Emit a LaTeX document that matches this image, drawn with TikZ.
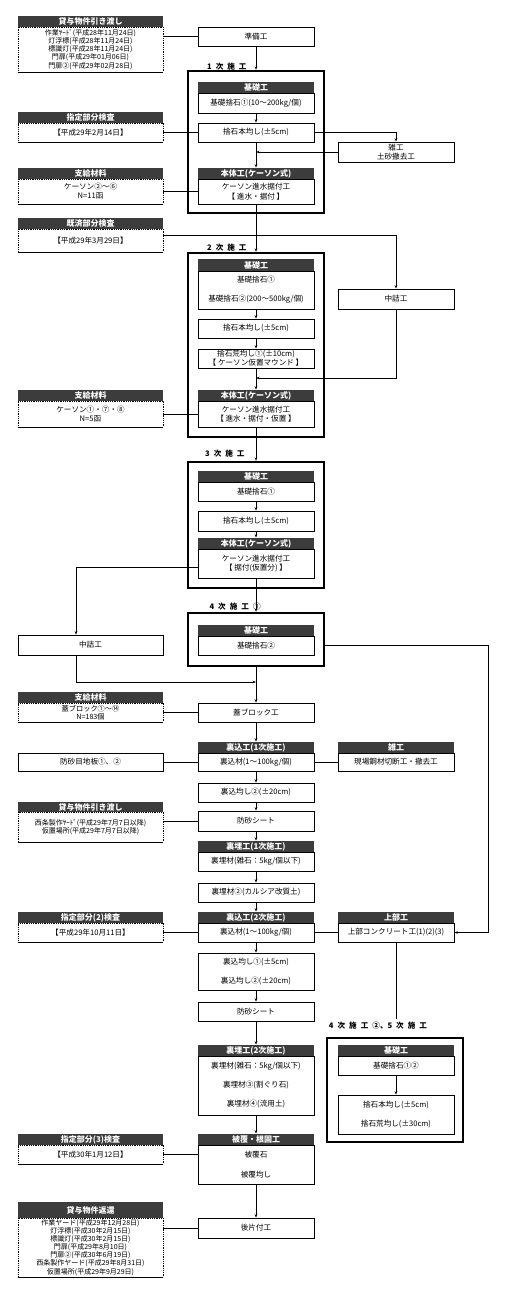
\documentclass[tikz,border=0pt]{standalone}
\usepackage{fontspec}
\setmainfont{Noto Sans CJK JP}
\usetikzlibrary{arrows.meta}
\definecolor{hdgray}{HTML}{3C3C3C}

\begin{document}
\begin{tikzpicture}[x=1pt,y=-1pt,
    font=\fontsize{7.6}{9.5}\selectfont,
    >={Stealth[length=3.5pt,width=2.6pt]},
    line width=0.8pt,
    bx/.style={draw, minimum width=116pt, minimum height=19pt, inner sep=0pt, align=center},
    hd/.style={fill=hdgray, text=white, font=\fontsize{8}{8}\selectfont\bfseries, minimum width=116pt, minimum height=11pt, inner sep=0pt},
    lbx/.style={bx, minimum width=145pt},
    lhd/.style={hd, minimum width=145pt},
    lbody/.style={lbx, densely dotted},
    outer/.style={draw, line width=2.4pt, minimum width=136pt, inner sep=0pt},
    lbl/.style={font=\fontsize{7.6}{8}\selectfont\bfseries, inner sep=0pt}]
  \useasboundingbox (0,0) rectangle (510,1292);

  % frames of the stages
  \node[outer, minimum height=142pt] (o1) at (256,142) {};
  \node[outer, minimum height=184pt] (o2) at (256,345) {};
  \node[outer, minimum height=126pt] (o3) at (256,525) {};
  \node[outer, minimum height=53pt] (o4) at (256,639.5) {};
  \node[outer, minimum height=104pt] (o5) at (395,1090) {};

  \node[lbl, anchor=east] (lbl1) at (247,67) {1\hspace{4pt}次\hspace{4pt}施\hspace{4pt}工};
  \node[lbl, anchor=east] (lbl2) at (247,248) {2\hspace{4pt}次\hspace{4pt}施\hspace{4pt}工};
  \node[lbl, anchor=east] (lbl3) at (245,454) {3\hspace{4pt}次\hspace{4pt}施\hspace{4pt}工};
  \node[lbl, anchor=east] (lbl4) at (261,607) {4\hspace{4pt}次\hspace{4pt}施\hspace{4pt}工\hspace{4pt}①};
  \node[lbl] (lbl5) at (378,1026) {4\hspace{4pt}次\hspace{4pt}施\hspace{4pt}工\hspace{4pt}②、5\hspace{4pt}次\hspace{4pt}施\hspace{4pt}工};

  % main column
  \node[bx] (junbi) at (256,36.5) {準備工};
  \node[hd] (k1h) at (256,87.5) {基礎工};
  \node[bx, minimum height=20pt] (k1b) at (256,103) {基礎捨石①(10～200kg/個)};
  \node[bx] (s1) at (256,132.5) {捨石本均し(±5cm)};
  \node[hd] (h1h) at (256,173.5) {本体工(ケーソン式)};
  \node[bx, minimum height=25pt] (h1b) at (256,191.5) {ケーソン進水据付工\\【 進水・据付 】};

  \node[hd, minimum height=12pt] (k2h) at (256,265) {基礎工};
  \node[bx, minimum height=38pt] (k2b) at (256,290) {基礎捨石①\\[9.5pt]基礎捨石②(200～500kg/個)};
  \node[bx] (s2) at (256,328.5) {捨石本均し(±5cm)};
  \node[bx, font=\fontsize{7.6}{9}\selectfont] (a2) at (256,358.5) {捨石荒均し①(±10cm)\\【 ケーソン仮置マウンド 】};
  \node[hd] (h2h) at (256,395.5) {本体工(ケーソン式)};
  \node[bx, minimum height=26pt] (h2b) at (256,414) {ケーソン進水据付工\\【 進水・据付・仮置 】};

  \node[hd] (k3h) at (256,476.5) {基礎工};
  \node[bx] (k3b) at (256,491.5) {基礎捨石①};
  \node[bx, minimum height=20pt] (s3) at (256,521) {捨石本均し(±5cm)};
  \node[hd] (h3h) at (256,543.5) {本体工(ケーソン式)};
  \node[bx, minimum height=29pt] (h3b) at (256,563.5) {ケーソン進水据付工\\【 据付(仮置分) 】};

  \node[hd] (k4h) at (256,630.5) {基礎工};
  \node[bx] (k4b) at (256,645.5) {基礎捨石②};

  \node[bx] (futa) at (256,712.5) {蓋ブロック工};
  \node[hd] (u1h) at (256,747.5) {裏込工(1次施工)};
  \node[bx, minimum height=18pt] (u1b) at (256,762) {裏込材(1～100kg/個)};
  \node[bx] (un2) at (256,792.5) {裏込均し②(±20cm)};
  \node[bx, minimum height=20pt] (bs1) at (256,821) {防砂シート};
  \node[hd] (r1h) at (256,846.5) {裏埋工(1次施工)};
  \node[bx] (r1b) at (256,861.5) {裏埋材(雑石：5kg/個以下)};
  \node[bx] (r2) at (256,892.5) {裏埋材②(カルシア改質土)};
  \node[hd] (u2h) at (256,917.5) {裏込工(2次施工)};
  \node[bx] (u2b) at (256,932.5) {裏込材(1～100kg/個)};
  \node[bx, minimum height=37pt] (un3) at (256,971.5) {裏込均し①(±5cm)\\[9.5pt]裏込均し②(±20cm)};
  \node[bx] (bs2) at (256,1011.5) {防砂シート};
  \node[hd] (r3h) at (256,1050.5) {裏埋工(2次施工)};
  \node[bx, minimum height=59pt] (r3b) at (256,1085.5) {裏埋材(雑石：5kg/個以下)\\[9.5pt]裏埋材③(割ぐり石)\\[9.5pt]裏埋材④(流用土)};
  \node[hd] (hfh) at (256,1139.5) {被覆・根固工};
  \node[bx, minimum height=39pt] (hfb) at (256,1164.5) {被覆石\\[11pt]被覆均し};
  \node[bx, minimum height=20pt] (ato) at (256,1228) {後片付工};

  % right column
  \node[bx, minimum height=20pt, font=\fontsize{7.6}{9}\selectfont] (zatsu1) at (396,152) {雑工\\土砂撤去工};
  \node[bx, minimum height=20pt] (naka1) at (396,299) {中詰工};
  \node[hd] (z2h) at (396,747.5) {雑工};
  \node[bx, minimum height=18pt] (z2b) at (396,762) {現場鋼材切断工・撤去工};
  \node[hd] (jh) at (396,917.5) {上部工};
  \node[bx] (jb) at (396,932.5) {上部コンクリート工(1)(2)(3)};
  \node[hd] (k5h) at (396,1050.5) {基礎工};
  \node[bx] (k5b) at (396,1065.5) {基礎捨石①②};
  \node[bx, minimum height=39pt] (s5) at (396,1114.5) {捨石本均し(±5cm)\\[9.5pt]捨石荒均し(±30cm)};

  % left column
  \node[lhd] (L1h) at (90.5,21.5) {貸与物件引き渡し};
  \node[lbody, minimum height=45pt, font=\fontsize{7}{8.2}\selectfont] (L1b) at (90.5,49.5) {作業ﾔｰﾄﾞ(平成28年11月24日)\\灯浮標(平成28年11月24日)\\標識灯(平成28年11月24日)\\門扉(平成29年01月06日)\\門扉②(平成29年02月28日)};
  \node[lhd] (L2h) at (90.5,117.5) {指定部分検査};
  \node[lbody] (L2b) at (90.5,132.5) {【平成29年2月14日】};
  \node[lhd] (L3h) at (90.5,173.5) {支給材料};
  \node[lbody, minimum height=25pt, font=\fontsize{7.6}{9}\selectfont] (L3b) at (90.5,191.5) {ケーソン②～⑥\\N=11函};
  \node[lhd] (L4h) at (90.5,223.5) {既済部分検査};
  \node[lbody, minimum height=23pt] (L4b) at (90.5,240.5) {【平成29年3月29日】};
  \node[lhd] (L5h) at (90.5,395.5) {支給材料};
  \node[lbody, minimum height=26pt, font=\fontsize{7.6}{9}\selectfont] (L5b) at (90.5,414) {ケーソン①・⑦・⑧\\N=5函};
  \node[lbx, minimum height=20pt] (nakaL) at (90.5,645) {中詰工};
  \node[lhd] (L6h) at (90.5,697.5) {支給材料};
  \node[lbody, font=\fontsize{7.2}{8}\selectfont] (L6b) at (90.5,712.5) {蓋ブロック①～⑭\\N=183個};
  \node[lbx, minimum height=18pt] (bosa) at (90.5,762) {防砂目地板①、②};
  \node[lhd, minimum height=10pt] (L7h) at (90.5,807) {貸与物件引き渡し};
  \node[lbody, minimum height=30pt, font=\fontsize{7}{8.5}\selectfont] (L7b) at (90.5,827) {西条製作ﾔｰﾄﾞ(平成29年7月7日以降)\\仮置場所(平成29年7月7日以降)};
  \node[lhd] (L8h) at (90.5,917.5) {指定部分(2)検査};
  \node[lbody] (L8b) at (90.5,932.5) {【平成29年10月11日】};
  \node[lhd] (L9h) at (90.5,1139.5) {指定部分(3)検査};
  \node[lbody] (L9b) at (90.5,1154.5) {【平成30年1月12日】};
  \node[lhd, minimum height=16pt] (L10h) at (90.5,1210) {貸与物件返還};
  \node[lbody, minimum height=59pt, font=\fontsize{7}{8.1}\selectfont] (L10b) at (90.5,1247.5) {作業ヤード(平成29年12月28日)\\灯浮標(平成30年2月15日)\\標識灯(平成30年2月15日)\\門扉(平成29年8月10日)\\門扉②(平成30年6月19日)\\西条製作ヤード(平成29年8月31日)\\仮置場所(平成29年9月29日)};
  \foreach \n in {L1b,L2b,L3b,L4b,L5b,L6b,L7b,L8b,L9b,L10b}
    \draw (\n.south west) -- (\n.south east);

  \coordinate (j2) at (256,378);
  \coordinate (j4) at (256,682);
  \coordinate (rc) at (488,0);

  % connectors
  \draw (L1b.east |- junbi.west) -- (junbi.west);
  \draw[->] (junbi.south) -- (o1.north);
  \draw[->] (k1b.south) -- (s1.north);
  \draw (L2b.east) -- (s1.west);
  \draw[->] (s1.east) -| (zatsu1.north);
  \draw[->] (zatsu1.west) -- (zatsu1.west -| s1.south);
  \draw[->] (s1.south) -- (h1h.north);
  \draw (L3b.east) -- (h1b.west);
  \draw[->] (h1b.south) -- (o2.north);
  \draw[->] ([yshift=5.5pt]L4b.east) -| (naka1.north);
  \draw[->] (naka1.south) |- (j2);
  \draw[->] (k2b.south) -- (s2.north);
  \draw[->] (s2.south) -- (a2.north);
  \draw[->] (a2.south) -- (h2h.north);
  \draw (L5b.east) -- (h2b.west);
  \draw[->] (h2b.south) -- (o3.north);
  \draw[->] (k3b.south) -- (s3.north);
  \draw[->] (s3.south) -- (h3h.north);
  \draw[->] ([yshift=-3.5pt]h3b.west) -| ([xshift=-14.5pt]nakaL.north);
  \draw[->] (h3b.south) -- (o4.north);
  \draw[->] ([xshift=-14.5pt]nakaL.south) |- (j4);
  \draw[->] (o4.south) -- (futa.north);
  \draw[->] (k4b.east -| o4.east) -- (k4b.east -| rc) |- (jb.east);
  \draw (L6b.east) -- (futa.west);
  \draw[->] (futa.south) -- (u1h.north);
  \draw (bosa.east) -- (u1b.west);
  \draw (u1b.east) -- (z2b.west);
  \draw[->] (u1b.south) -- (un2.north);
  \draw[->] (un2.south) -- (bs1.north);
  \draw (bs1.west -| L7b.east) -- (bs1.west);
  \draw[->] (bs1.south) -- (r1h.north);
  \draw[->] (r1b.south) -- (r2.north);
  \draw[->] (r2.south) -- (u2h.north);
  \draw (L8b.east) -- (u2b.west);
  \draw (u2b.east) -- (jb.west);
  \draw (jb.south) -- ([yshift=3pt]jb.south |- lbl5.north);
  \draw[->] (u2b.south) -- (un3.north);
  \draw[->] (un3.south) -- (bs2.north);
  \draw[->] (bs2.south) -- (r3h.north);
  \draw[->] (r3b.south) -- (hfh.north);
  \draw (L9b.east) -- (L9b.east -| hfb.west);
  \draw[->] (hfb.south) -- (ato.north);
  \draw (L10b.east |- ato.west) -- (ato.west);
  \draw[->] (k5b.south) -- (s5.north);
\end{tikzpicture}
\end{document}
